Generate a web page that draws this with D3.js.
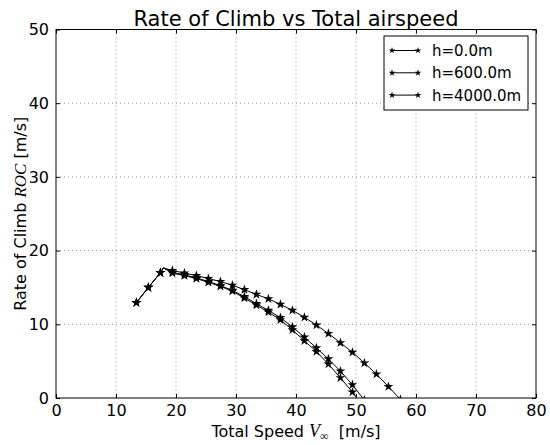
<!DOCTYPE html>
<html>
<head>
<meta charset="utf-8">
<script src="https://cdn.jsdelivr.net/npm/d3@7"></script>
<style>
  body { margin: 0; background: #fff; }
  svg { font-family: "DejaVu Sans", sans-serif; }
</style>
</head>
<body>
<div id="chart"></div>
<script>
// shared stall branch, then the peak vertex (no marker)
const vRise = [13.4, 15.4, 17.4];
const rocRise = [12.95, 15.0, 17.0];
const peak = [17.9, 17.65];

// falling branch speeds
const vFall = [19.4, 21.4, 23.4, 25.4, 27.4, 29.4, 31.4, 33.4, 35.4, 37.4,
               39.4, 41.4, 43.4, 45.4, 47.4, 49.4, 51.4, 53.4, 55.4, 57.4];

const roc_h0 = [16.95, 16.6, 16.2, 15.7, 15.15, 14.5, 13.55, 12.6, 11.65, 10.6,
                9.25, 7.75, 6.3, 4.6, 2.75, 0.8, -1.35];
const roc_h600 = [17.05, 16.7, 16.3, 15.8, 15.25, 14.6, 13.75, 12.8, 11.9, 10.9,
                  9.65, 8.25, 6.8, 5.3, 3.65, 1.8, -0.3];
const roc_h4000 = [17.3, 16.95, 16.6, 16.2, 15.8, 15.3, 14.7, 14.05, 13.45, 12.7,
                   11.9, 10.95, 9.9, 8.75, 7.5, 6.2, 4.75, 3.25, 1.55, -0.2];

const seriesNames = ["h=0.0m", "h=600.0m", "h=4000.0m"];
const seriesRoc = [roc_h0, roc_h600, roc_h4000];

const xTicks = [0, 10, 20, 30, 40, 50, 60, 70, 80];
const yTicks = [0, 10, 20, 30, 40, 50];

const width = 550, height = 445;
const margin = { top: 29.5, right: 14, bottom: 47, left: 56 };
const w = width - margin.left - margin.right;
const h = height - margin.top - margin.bottom;

const svg = d3.select("#chart").append("svg")
    .attr("width", width)
    .attr("height", height);

const g = svg.append("g")
    .attr("transform", `translate(${margin.left},${margin.top})`);

const x = d3.scaleLinear().domain([0, 80]).range([0, w]);
const y = d3.scaleLinear().domain([0, 50]).range([h, 0]);

// grid
g.append("g").selectAll("line").data(xTicks.slice(1, -1)).enter().append("line")
    .attr("x1", d => x(d)).attr("x2", d => x(d))
    .attr("y1", 0).attr("y2", h)
    .attr("stroke", "#777").attr("stroke-width", 0.8)
    .attr("stroke-dasharray", "1,3");
g.append("g").selectAll("line").data(yTicks.slice(1, -1)).enter().append("line")
    .attr("y1", d => y(d)).attr("y2", d => y(d))
    .attr("x1", 0).attr("x2", w)
    .attr("stroke", "#777").attr("stroke-width", 0.8)
    .attr("stroke-dasharray", "1,3");

// axes with inward ticks
const xAxis = g.append("g")
    .attr("transform", `translate(0,${h})`)
    .call(d3.axisBottom(x).tickValues(xTicks).tickSizeInner(-4).tickSizeOuter(0).tickPadding(7));
const xAxisTop = g.append("g")
    .call(d3.axisTop(x).tickValues(xTicks).tickSizeInner(-4).tickSizeOuter(0).tickFormat(""));
const yAxis = g.append("g")
    .call(d3.axisLeft(y).tickValues(yTicks).tickSizeInner(-4).tickSizeOuter(0).tickPadding(7));
const yAxisRight = g.append("g")
    .attr("transform", `translate(${w},0)`)
    .call(d3.axisRight(y).tickValues(yTicks).tickSizeInner(-4).tickSizeOuter(0).tickFormat(""));

[xAxis, xAxisTop, yAxis, yAxisRight].forEach(a => {
  a.select(".domain").remove();
  a.selectAll("text").attr("font-size", 16).attr("fill", "#000")
    .attr("font-family", "DejaVu Sans, sans-serif");
  a.selectAll("line").attr("stroke", "#000");
});

// frame
g.append("rect")
    .attr("width", w).attr("height", h)
    .attr("fill", "none").attr("stroke", "#000").attr("stroke-width", 1);

// clip
svg.append("defs").append("clipPath").attr("id", "plot-clip")
  .append("rect").attr("width", w).attr("height", h);

const plot = g.append("g").attr("clip-path", "url(#plot-clip)");
const line = d3.line().x(d => x(d[0])).y(d => y(d[1]));
const star = d3.symbol().type(d3.symbolStar).size(30);

seriesRoc.forEach((roc, i) => {
  const rise = vRise.map((v, k) => [v, rocRise[k]]);
  const fall = roc.map((r, k) => [vFall[k], r]);
  const pts = rise.concat([peak], fall);
  plot.append("path")
      .attr("d", line(pts))
      .attr("fill", "none").attr("stroke", "#000").attr("stroke-width", 1);
  plot.selectAll(null).data(rise.concat(fall)).enter().append("path")
      .attr("d", star)
      .attr("transform", d => `translate(${x(d[0])},${y(d[1])})`)
      .attr("fill", "#000");
});

// legend
const lg = g.append("g").attr("transform", `translate(${384 - margin.left},${36 - margin.top})`);
lg.append("rect")
    .attr("width", 144).attr("height", 74)
    .attr("fill", "#fff").attr("stroke", "#000").attr("stroke-width", 1);
seriesNames.forEach((name, i) => {
  const yy = 14.5 + i * 22.3;
  lg.append("line").attr("x1", 8).attr("x2", 34).attr("y1", yy).attr("y2", yy)
    .attr("stroke", "#000").attr("stroke-width", 1);
  [8, 34].forEach(xx => lg.append("path")
    .attr("d", d3.symbol().type(d3.symbolStar).size(14)())
    .attr("transform", `translate(${xx},${yy})`).attr("fill", "#000"));
  lg.append("text").attr("x", 48).attr("y", yy).attr("dy", "0.36em")
    .attr("font-size", 15).text(name);
});

// title
svg.append("text")
    .attr("x", margin.left + w / 2).attr("y", 26)
    .attr("text-anchor", "middle").attr("font-size", 21)
    .text("Rate of Climb vs Total airspeed");

// x label
const xl = svg.append("text")
    .attr("x", margin.left + w / 2).attr("y", 437)
    .attr("text-anchor", "middle").attr("font-size", 16);
xl.append("tspan").text("Total Speed ");
xl.append("tspan").attr("font-family", "Liberation Serif, serif").attr("font-style", "italic")
  .attr("font-size", 18).text("V");
xl.append("tspan").attr("font-family", "Liberation Serif, serif").attr("font-size", 12)
  .attr("dy", 3).text("∞");
xl.append("tspan").attr("dy", -3).text("\u00a0\u00a0[m/s]");

// y label
const yl = svg.append("text")
    .attr("transform", `translate(26,${margin.top + h / 2}) rotate(-90)`)
    .attr("text-anchor", "middle").attr("font-size", 16);
yl.append("tspan").text("Rate of Climb ");
yl.append("tspan").attr("font-family", "Liberation Serif, serif").attr("font-style", "italic")
  .attr("font-size", 17).text("ROC");
yl.append("tspan").text(" [m/s]");
</script>
</body>
</html>
